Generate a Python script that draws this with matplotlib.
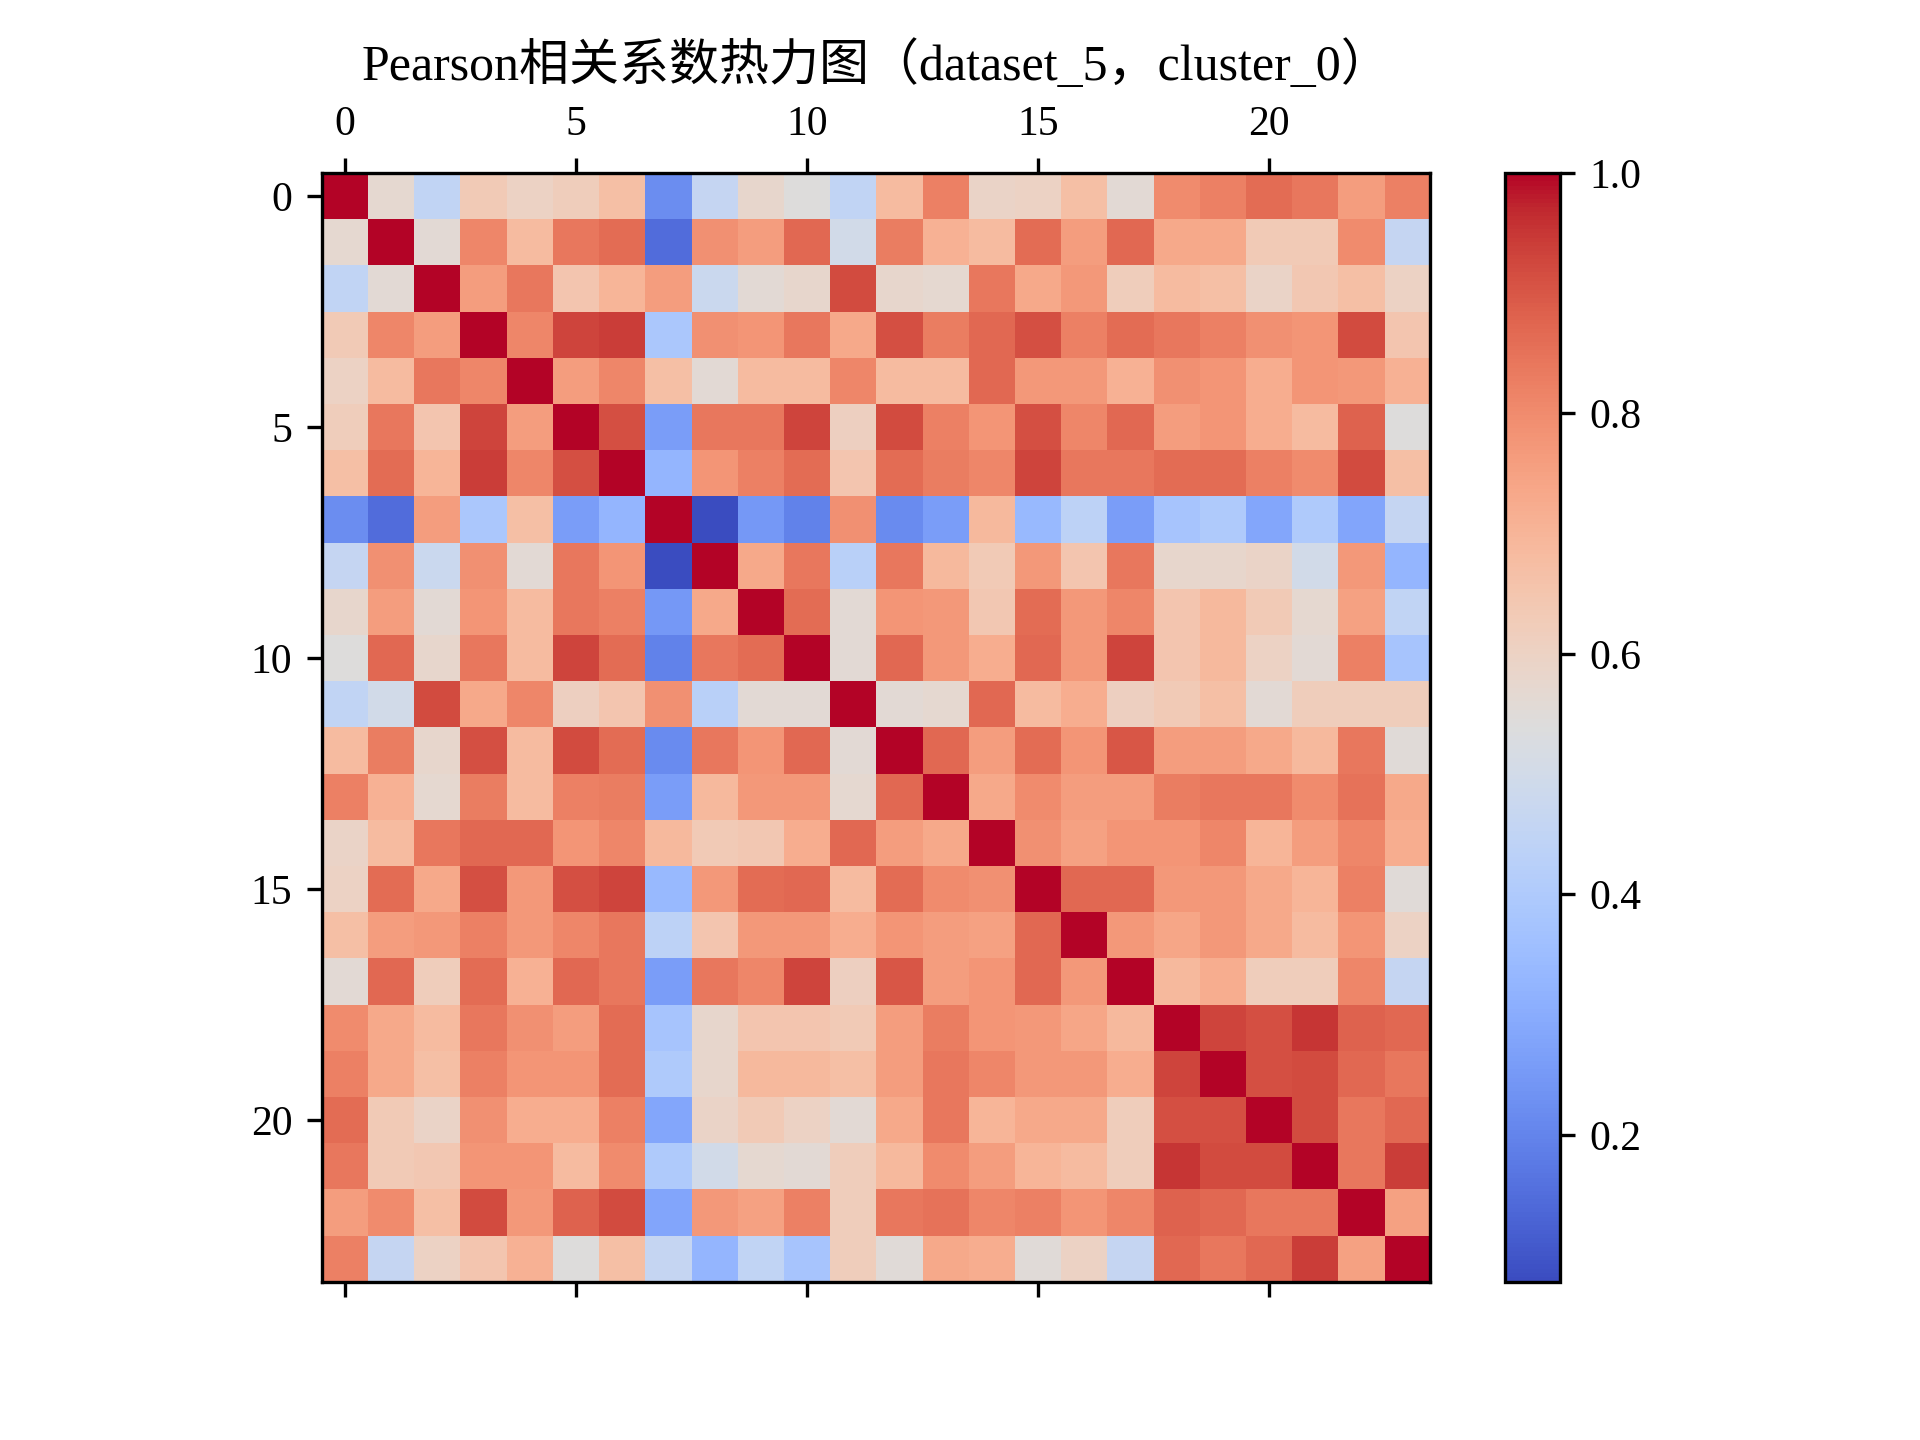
import numpy as np
import matplotlib
matplotlib.use('Agg')
import matplotlib.pyplot as plt

plt.rcParams['font.family'] = ['Liberation Serif', 'Noto Sans CJK SC', 'DejaVu Sans']

# 上三角的相关系数（第 i 行对应第 i+1..23 列）
r0 = [0.57, 0.45, 0.63, 0.60, 0.62, 0.67, 0.22, 0.46, 0.58, 0.54, 0.45, 0.68, 0.82, 0.59, 0.60, 0.67, 0.56, 0.80, 0.82, 0.86, 0.84, 0.76, 0.82]
r1 = [0.56, 0.81, 0.68, 0.84, 0.86, 0.15, 0.79, 0.76, 0.87, 0.50, 0.83, 0.71, 0.68, 0.86, 0.76, 0.87, 0.73, 0.73, 0.63, 0.63, 0.80, 0.46]
r2 = [0.76, 0.84, 0.65, 0.70, 0.76, 0.48, 0.56, 0.58, 0.92, 0.58, 0.57, 0.84, 0.73, 0.77, 0.62, 0.68, 0.67, 0.59, 0.64, 0.67, 0.60]
r3 = [0.81, 0.93, 0.94, 0.39, 0.79, 0.78, 0.84, 0.73, 0.91, 0.83, 0.87, 0.91, 0.82, 0.86, 0.84, 0.82, 0.79, 0.78, 0.92, 0.65]
r4 = [0.76, 0.81, 0.67, 0.56, 0.68, 0.68, 0.81, 0.68, 0.68, 0.87, 0.77, 0.77, 0.71, 0.79, 0.78, 0.72, 0.78, 0.77, 0.71]
r5 = [0.91, 0.26, 0.84, 0.84, 0.93, 0.61, 0.92, 0.82, 0.78, 0.91, 0.81, 0.87, 0.76, 0.78, 0.72, 0.68, 0.88, 0.54]
r6 = [0.33, 0.78, 0.82, 0.86, 0.65, 0.86, 0.83, 0.81, 0.93, 0.84, 0.84, 0.86, 0.86, 0.82, 0.80, 0.92, 0.67]
r7 = [0.078, 0.25, 0.195, 0.79, 0.215, 0.26, 0.69, 0.34, 0.44, 0.26, 0.38, 0.40, 0.285, 0.40, 0.28, 0.46]
r8 = [0.73, 0.84, 0.43, 0.84, 0.69, 0.63, 0.77, 0.65, 0.84, 0.58, 0.58, 0.59, 0.50, 0.77, 0.33]
r9 = [0.86, 0.56, 0.78, 0.77, 0.64, 0.86, 0.77, 0.81, 0.65, 0.69, 0.63, 0.57, 0.75, 0.45]
r10 = [0.56, 0.87, 0.77, 0.72, 0.87, 0.77, 0.93, 0.65, 0.69, 0.60, 0.56, 0.82, 0.38]
r11 = [0.56, 0.57, 0.87, 0.68, 0.72, 0.61, 0.63, 0.67, 0.56, 0.62, 0.62, 0.62]
r12 = [0.87, 0.76, 0.86, 0.78, 0.90, 0.76, 0.76, 0.73, 0.69, 0.84, 0.55]
r13 = [0.73, 0.80, 0.76, 0.76, 0.83, 0.84, 0.84, 0.80, 0.85, 0.73]
r14 = [0.79, 0.75, 0.78, 0.78, 0.81, 0.70, 0.76, 0.81, 0.72]
r15 = [0.87, 0.87, 0.77, 0.77, 0.73, 0.70, 0.82, 0.55]
r16 = [0.77, 0.74, 0.77, 0.73, 0.68, 0.78, 0.60]
r17 = [0.69, 0.72, 0.62, 0.62, 0.81, 0.46]
r18 = [0.93, 0.91, 0.95, 0.88, 0.87]
r19 = [0.91, 0.92, 0.87, 0.84]
r20 = [0.92, 0.84, 0.87]
r21 = [0.84, 0.94]
r22 = [0.75]

upper = [r0, r1, r2, r3, r4, r5, r6, r7, r8, r9, r10, r11,
         r12, r13, r14, r15, r16, r17, r18, r19, r20, r21, r22]

n = len(upper) + 1
corr = np.eye(n)
for i, row in enumerate(upper):
    for k, v in enumerate(row):
        j = i + 1 + k
        corr[i, j] = v
        corr[j, i] = v

fig, ax = plt.subplots(figsize=(6.4, 4.8))
cax = ax.matshow(corr, cmap='coolwarm')
fig.colorbar(cax)
ax.set_title('Pearson相关系数热力图（dataset_5，cluster_0）')

plt.savefig('out.png', dpi=300)
plt.close()
